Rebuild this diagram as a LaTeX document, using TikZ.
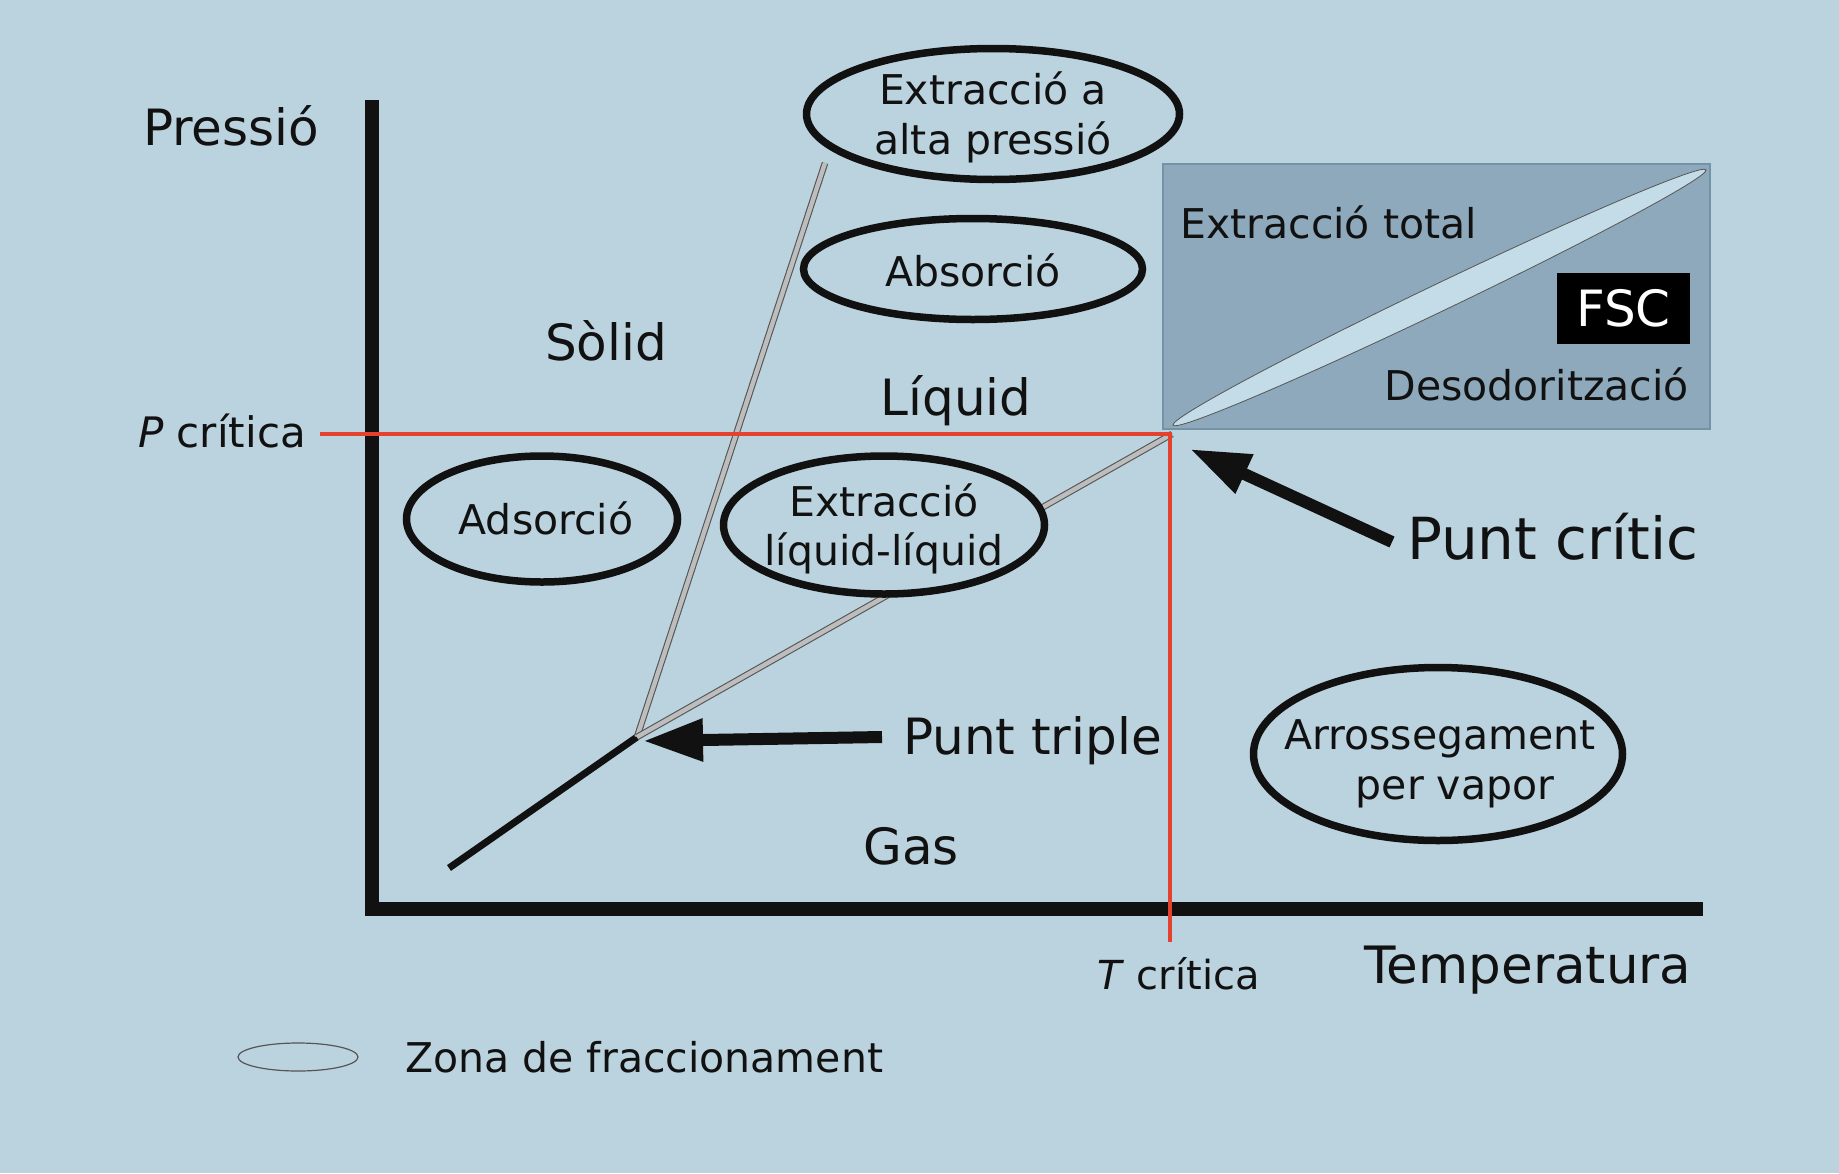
\documentclass[tikz,border=0pt]{standalone}
\usepackage{fontspec}
\setmainfont{DejaVu Sans}
\usetikzlibrary{arrows.meta,shapes.geometric}
\definecolor{bg}{HTML}{BBD3DE}
\definecolor{boxc}{HTML}{8DA9BB}
\definecolor{boxline}{HTML}{7593A6}
\definecolor{thinfill}{HTML}{C4DCE7}
\definecolor{redl}{HTML}{E5412F}
\definecolor{grayin}{HTML}{BDBDBD}
\definecolor{grayout}{HTML}{555555}
\definecolor{ink}{HTML}{111111}
\begin{document}
\begin{tikzpicture}[x=1pt,y=-1pt,
  big/.style={font=\fontsize{50}{60}\selectfont, inner sep=0pt, text=ink},
  mid/.style={font=\fontsize{41}{49}\selectfont, inner sep=0pt, text=ink},
  zone/.style={ellipse, draw=ink, line width=7.5pt, fill=bg, inner sep=0pt},
  phase/.style={double=grayin, double distance=4.4pt, draw=grayout, line width=1.1pt},
  redline/.style={draw=redl, line width=4pt},
  fatarrow/.style={draw=ink, line width=12pt, -{Triangle[length=60pt,width=40pt]}},
]
\fill[bg] (0,0) rectangle (1839,1173);
\useasboundingbox (0,0) rectangle (1839,1173);

% supercritical box
\node[draw=boxline, line width=1.2pt, fill=boxc, minimum width=547pt, minimum height=265pt, inner sep=0pt] (scbox) at (1436.5,296.5) {};
\node[ellipse, draw=grayout, line width=0.8pt, fill=thinfill, minimum width=591pt, minimum height=27pt, inner sep=0pt, rotate=25.6] (thin) at (1439.5,297.5) {};
\node[fill=black, text=white, font=\fontsize{50}{60}\selectfont, minimum width=133pt, minimum height=71pt, inner sep=0pt] (fsc) at (1623.5,308.5) {FSC};
\node[mid, anchor=base west] (ext) at (1180,238) {Extracció total};
\node[mid, anchor=base east] (deso) at (1689,400) {Desodorització};

% key points
\coordinate (origin) at (372,909);
\coordinate (ytop) at (372,100);
\coordinate (xend) at (1703,909);
\coordinate (tp) at (637,737);
\coordinate (cp) at (1172,434);
\coordinate (sl) at (825,163);
\coordinate (sg) at (449,868);
\coordinate (pcl) at (320,434);
\coordinate (tcb) at (1170,942);
\coordinate (tcp) at (1170,434);

% axes
\draw[ink, line width=13.5pt, line join=miter] (ytop) |- (xend);

% phase lines
\draw[ink, line width=7pt] (sg) -- (tp);
\draw[phase] (tp) -- (sl);
\draw[phase] (tp) -- (cp);

% ellipses
\node[zone, minimum width=373pt, minimum height=131pt] (e1) at (993,114) {};
\node[zone, minimum width=339pt, minimum height=101pt] (e2) at (973,269) {};
\node[zone, minimum width=271pt, minimum height=126pt] (e3) at (542,519) {};
\node[zone, minimum width=321pt, minimum height=138pt] (e4) at (884,525) {};
\node[zone, minimum width=369pt, minimum height=173pt] (e5) at (1438,754) {};

\node[mid, anchor=base] at (993,104) {Extracció a};
\node[mid, anchor=base] at (993,154) {alta pressió};
\node[mid, anchor=base] at (973,286) {Absorció};
\node[mid, anchor=base] at (546,534) {Adsorció};
\node[mid, anchor=base] at (884,516) {Extracció};
\node[mid, anchor=base] at (884,565) {líquid-líquid};
\node[mid, anchor=base] at (1440,749) {Arrossegament};
\node[mid, anchor=base] at (1455,799) {per vapor};

% critical lines
\draw[redline] (pcl) -- (tcp) -- (tcb);

% arrows
\coordinate (ta1) at (882,737);
\coordinate (ta2) at (643,741);
\coordinate (ca1) at (1392,542);
\coordinate (ca2) at (1190,449);
\draw[fatarrow] (ta1) -- (ta2);
\draw[fatarrow] (ca1) -- (ca2);

% labels
\node[big, anchor=base west] (press) at (143,145) {Pressió};
\node[font=\fontsize{42}{50}\selectfont, inner sep=0pt, text=ink, anchor=base west] (pcrit) at (138,447) {\textit{P} crítica};
\node[font=\fontsize{40}{48}\selectfont, inner sep=0pt, text=ink, anchor=base west] (tcrit) at (1097,989) {\textit{T} crítica};
\node[font=\fontsize{51.5}{60}\selectfont, inner sep=0pt, text=ink, anchor=base west] (temp) at (1364,983) {Temperatura};
\node[big, anchor=base] (solid) at (606,360) {Sòlid};
\node[big, anchor=base] (liq) at (956,415) {Líquid};
\node[big, anchor=base] (gas) at (911,864) {Gas};
\node[big, anchor=base west] (ptl) at (903,754) {Punt triple};
\node[font=\fontsize{58}{70}\selectfont, inner sep=0pt, text=ink, anchor=base west] (pcr) at (1407,559) {Punt crític};

% legend
\node[ellipse, draw=grayout, line width=1.2pt, fill=bg, minimum width=120pt, minimum height=28pt, inner sep=0pt] (leg) at (298,1057) {};
\node[mid, anchor=base west] (legt) at (405,1072) {Zona de fraccionament};
\end{tikzpicture}
\end{document}
